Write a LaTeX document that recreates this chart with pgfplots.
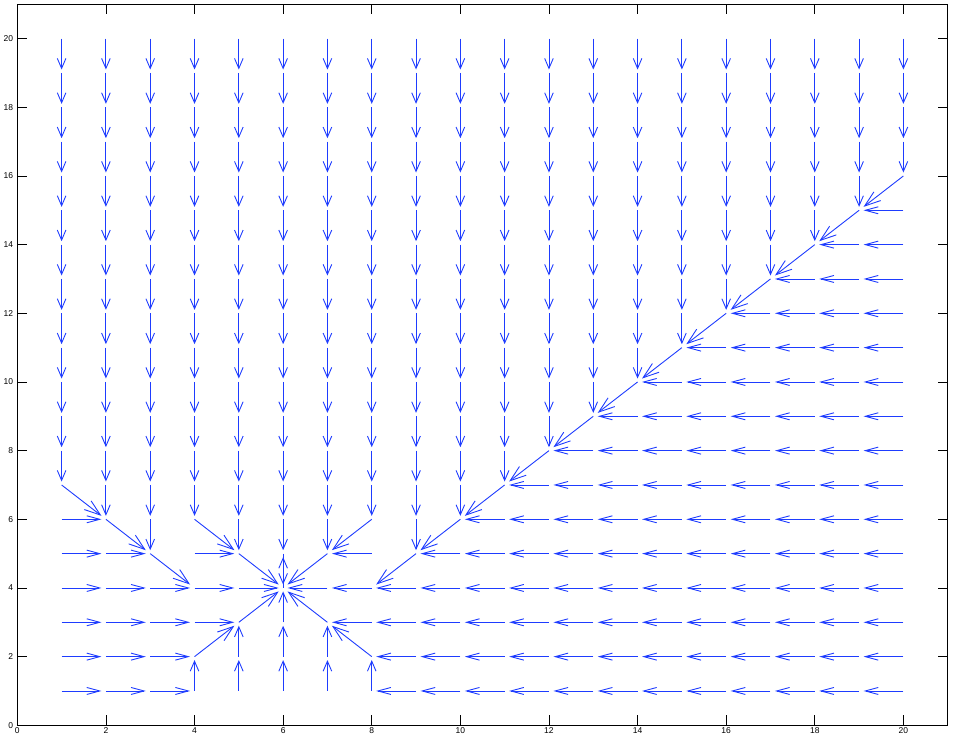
\documentclass[border=0pt]{standalone}
\usepackage{fontspec}
\setmainfont{Liberation Sans}
\usepackage{pgfplots}
\usepackage{pgfplotstable}
\pgfplotsset{compat=1.18}
\usetikzlibrary{arrows.meta}
\definecolor{qblue}{RGB}{30,60,255}

% horizontal arrows
\pgfplotstableread[row sep=\\]{
x y u v\\
20 15 -1 0\\
19 14 -1 0\\ 20 14 -1 0\\
18 13 -1 0\\ 19 13 -1 0\\ 20 13 -1 0\\
17 12 -1 0\\ 18 12 -1 0\\ 19 12 -1 0\\ 20 12 -1 0\\
16 11 -1 0\\ 17 11 -1 0\\ 18 11 -1 0\\ 19 11 -1 0\\ 20 11 -1 0\\
15 10 -1 0\\ 16 10 -1 0\\ 17 10 -1 0\\ 18 10 -1 0\\ 19 10 -1 0\\ 20 10 -1 0\\
14 9 -1 0\\ 15 9 -1 0\\ 16 9 -1 0\\ 17 9 -1 0\\ 18 9 -1 0\\ 19 9 -1 0\\ 20 9 -1 0\\
13 8 -1 0\\ 14 8 -1 0\\ 15 8 -1 0\\ 16 8 -1 0\\ 17 8 -1 0\\ 18 8 -1 0\\ 19 8 -1 0\\ 20 8 -1 0\\
12 7 -1 0\\ 13 7 -1 0\\ 14 7 -1 0\\ 15 7 -1 0\\ 16 7 -1 0\\ 17 7 -1 0\\ 18 7 -1 0\\ 19 7 -1 0\\ 20 7 -1 0\\
1 6 1 0\\ 11 6 -1 0\\ 12 6 -1 0\\ 13 6 -1 0\\ 14 6 -1 0\\ 15 6 -1 0\\ 16 6 -1 0\\ 17 6 -1 0\\ 18 6 -1 0\\ 19 6 -1 0\\ 20 6 -1 0\\
1 5 1 0\\ 2 5 1 0\\ 4 5 1 0\\ 8 5 -1 0\\ 10 5 -1 0\\ 11 5 -1 0\\ 12 5 -1 0\\ 13 5 -1 0\\ 14 5 -1 0\\ 15 5 -1 0\\ 16 5 -1 0\\ 17 5 -1 0\\ 18 5 -1 0\\ 19 5 -1 0\\ 20 5 -1 0\\
1 4 1 0\\ 2 4 1 0\\ 3 4 1 0\\ 4 4 1 0\\ 5 4 1 0\\ 7 4 -1 0\\ 8 4 -1 0\\ 9 4 -1 0\\ 10 4 -1 0\\ 11 4 -1 0\\ 12 4 -1 0\\ 13 4 -1 0\\ 14 4 -1 0\\ 15 4 -1 0\\ 16 4 -1 0\\ 17 4 -1 0\\ 18 4 -1 0\\ 19 4 -1 0\\ 20 4 -1 0\\
1 3 1 0\\ 2 3 1 0\\ 3 3 1 0\\ 4 3 1 0\\ 8 3 -1 0\\ 9 3 -1 0\\ 10 3 -1 0\\ 11 3 -1 0\\ 12 3 -1 0\\ 13 3 -1 0\\ 14 3 -1 0\\ 15 3 -1 0\\ 16 3 -1 0\\ 17 3 -1 0\\ 18 3 -1 0\\ 19 3 -1 0\\ 20 3 -1 0\\
1 2 1 0\\ 2 2 1 0\\ 3 2 1 0\\ 9 2 -1 0\\ 10 2 -1 0\\ 11 2 -1 0\\ 12 2 -1 0\\ 13 2 -1 0\\ 14 2 -1 0\\ 15 2 -1 0\\ 16 2 -1 0\\ 17 2 -1 0\\ 18 2 -1 0\\ 19 2 -1 0\\ 20 2 -1 0\\
1 1 1 0\\ 2 1 1 0\\ 3 1 1 0\\ 9 1 -1 0\\ 10 1 -1 0\\ 11 1 -1 0\\ 12 1 -1 0\\ 13 1 -1 0\\ 14 1 -1 0\\ 15 1 -1 0\\ 16 1 -1 0\\ 17 1 -1 0\\ 18 1 -1 0\\ 19 1 -1 0\\ 20 1 -1 0\\
}\harr

% vertical arrows
\pgfplotstableread[row sep=\\]{
x y u v\\
1 20 0 -1\\ 2 20 0 -1\\ 3 20 0 -1\\ 4 20 0 -1\\ 5 20 0 -1\\ 6 20 0 -1\\ 7 20 0 -1\\ 8 20 0 -1\\ 9 20 0 -1\\ 10 20 0 -1\\ 11 20 0 -1\\ 12 20 0 -1\\ 13 20 0 -1\\ 14 20 0 -1\\ 15 20 0 -1\\ 16 20 0 -1\\ 17 20 0 -1\\ 18 20 0 -1\\ 19 20 0 -1\\ 20 20 0 -1\\
1 19 0 -1\\ 2 19 0 -1\\ 3 19 0 -1\\ 4 19 0 -1\\ 5 19 0 -1\\ 6 19 0 -1\\ 7 19 0 -1\\ 8 19 0 -1\\ 9 19 0 -1\\ 10 19 0 -1\\ 11 19 0 -1\\ 12 19 0 -1\\ 13 19 0 -1\\ 14 19 0 -1\\ 15 19 0 -1\\ 16 19 0 -1\\ 17 19 0 -1\\ 18 19 0 -1\\ 19 19 0 -1\\ 20 19 0 -1\\
1 18 0 -1\\ 2 18 0 -1\\ 3 18 0 -1\\ 4 18 0 -1\\ 5 18 0 -1\\ 6 18 0 -1\\ 7 18 0 -1\\ 8 18 0 -1\\ 9 18 0 -1\\ 10 18 0 -1\\ 11 18 0 -1\\ 12 18 0 -1\\ 13 18 0 -1\\ 14 18 0 -1\\ 15 18 0 -1\\ 16 18 0 -1\\ 17 18 0 -1\\ 18 18 0 -1\\ 19 18 0 -1\\ 20 18 0 -1\\
1 17 0 -1\\ 2 17 0 -1\\ 3 17 0 -1\\ 4 17 0 -1\\ 5 17 0 -1\\ 6 17 0 -1\\ 7 17 0 -1\\ 8 17 0 -1\\ 9 17 0 -1\\ 10 17 0 -1\\ 11 17 0 -1\\ 12 17 0 -1\\ 13 17 0 -1\\ 14 17 0 -1\\ 15 17 0 -1\\ 16 17 0 -1\\ 17 17 0 -1\\ 18 17 0 -1\\ 19 17 0 -1\\ 20 17 0 -1\\
1 16 0 -1\\ 2 16 0 -1\\ 3 16 0 -1\\ 4 16 0 -1\\ 5 16 0 -1\\ 6 16 0 -1\\ 7 16 0 -1\\ 8 16 0 -1\\ 9 16 0 -1\\ 10 16 0 -1\\ 11 16 0 -1\\ 12 16 0 -1\\ 13 16 0 -1\\ 14 16 0 -1\\ 15 16 0 -1\\ 16 16 0 -1\\ 17 16 0 -1\\ 18 16 0 -1\\ 19 16 0 -1\\
1 15 0 -1\\ 2 15 0 -1\\ 3 15 0 -1\\ 4 15 0 -1\\ 5 15 0 -1\\ 6 15 0 -1\\ 7 15 0 -1\\ 8 15 0 -1\\ 9 15 0 -1\\ 10 15 0 -1\\ 11 15 0 -1\\ 12 15 0 -1\\ 13 15 0 -1\\ 14 15 0 -1\\ 15 15 0 -1\\ 16 15 0 -1\\ 17 15 0 -1\\ 18 15 0 -1\\
1 14 0 -1\\ 2 14 0 -1\\ 3 14 0 -1\\ 4 14 0 -1\\ 5 14 0 -1\\ 6 14 0 -1\\ 7 14 0 -1\\ 8 14 0 -1\\ 9 14 0 -1\\ 10 14 0 -1\\ 11 14 0 -1\\ 12 14 0 -1\\ 13 14 0 -1\\ 14 14 0 -1\\ 15 14 0 -1\\ 16 14 0 -1\\ 17 14 0 -1\\
1 13 0 -1\\ 2 13 0 -1\\ 3 13 0 -1\\ 4 13 0 -1\\ 5 13 0 -1\\ 6 13 0 -1\\ 7 13 0 -1\\ 8 13 0 -1\\ 9 13 0 -1\\ 10 13 0 -1\\ 11 13 0 -1\\ 12 13 0 -1\\ 13 13 0 -1\\ 14 13 0 -1\\ 15 13 0 -1\\ 16 13 0 -1\\
1 12 0 -1\\ 2 12 0 -1\\ 3 12 0 -1\\ 4 12 0 -1\\ 5 12 0 -1\\ 6 12 0 -1\\ 7 12 0 -1\\ 8 12 0 -1\\ 9 12 0 -1\\ 10 12 0 -1\\ 11 12 0 -1\\ 12 12 0 -1\\ 13 12 0 -1\\ 14 12 0 -1\\ 15 12 0 -1\\
1 11 0 -1\\ 2 11 0 -1\\ 3 11 0 -1\\ 4 11 0 -1\\ 5 11 0 -1\\ 6 11 0 -1\\ 7 11 0 -1\\ 8 11 0 -1\\ 9 11 0 -1\\ 10 11 0 -1\\ 11 11 0 -1\\ 12 11 0 -1\\ 13 11 0 -1\\ 14 11 0 -1\\
1 10 0 -1\\ 2 10 0 -1\\ 3 10 0 -1\\ 4 10 0 -1\\ 5 10 0 -1\\ 6 10 0 -1\\ 7 10 0 -1\\ 8 10 0 -1\\ 9 10 0 -1\\ 10 10 0 -1\\ 11 10 0 -1\\ 12 10 0 -1\\ 13 10 0 -1\\
1 9 0 -1\\ 2 9 0 -1\\ 3 9 0 -1\\ 4 9 0 -1\\ 5 9 0 -1\\ 6 9 0 -1\\ 7 9 0 -1\\ 8 9 0 -1\\ 9 9 0 -1\\ 10 9 0 -1\\ 11 9 0 -1\\ 12 9 0 -1\\
1 8 0 -1\\ 2 8 0 -1\\ 3 8 0 -1\\ 4 8 0 -1\\ 5 8 0 -1\\ 6 8 0 -1\\ 7 8 0 -1\\ 8 8 0 -1\\ 9 8 0 -1\\ 10 8 0 -1\\ 11 8 0 -1\\
2 7 0 -1\\ 3 7 0 -1\\ 4 7 0 -1\\ 5 7 0 -1\\ 6 7 0 -1\\ 7 7 0 -1\\ 8 7 0 -1\\ 9 7 0 -1\\ 10 7 0 -1\\
3 6 0 -1\\ 5 6 0 -1\\ 6 6 0 -1\\ 7 6 0 -1\\ 9 6 0 -1\\
6 5 0 -1\\
6 4 0 1\\
6 3 0 1\\
5 2 0 1\\ 6 2 0 1\\ 7 2 0 1\\
4 1 0 1\\ 5 1 0 1\\ 6 1 0 1\\ 7 1 0 1\\ 8 1 0 1\\
}\varr

% diagonal arrows
\pgfplotstableread[row sep=\\]{
x y u v\\
20 16 -1 -1\\ 19 15 -1 -1\\ 18 14 -1 -1\\ 17 13 -1 -1\\ 16 12 -1 -1\\
15 11 -1 -1\\ 14 10 -1 -1\\ 13 9 -1 -1\\ 12 8 -1 -1\\ 11 7 -1 -1\\
1 7 1 -1\\
2 6 1 -1\\ 4 6 1 -1\\ 8 6 -1 -1\\ 10 6 -1 -1\\
3 5 1 -1\\ 5 5 1 -1\\ 7 5 -1 -1\\ 9 5 -1 -1\\
5 3 1 1\\ 7 3 -1 1\\
4 2 1 1\\ 8 2 -1 1\\
}\darr

\begin{document}
\begin{tikzpicture}
\begin{axis}[
  scale only axis,
  width=930.4pt, height=721pt,
  xmin=0, xmax=21, ymin=0, ymax=21,
  xtick={0,2,...,20}, ytick={0,2,...,20},
  tick align=inside, xtick pos=both, ytick pos=both,
  major tick length=10pt,
  axis line style={line width=0.8pt, black},
  every tick/.style={black, line width=0.8pt},
  /pgf/number format/assume math mode=true,
  tick label style={font=\fontsize{8.5}{9}\selectfont, inner sep=0pt},
  x tick label style={yshift=-2.5pt},
  y tick label style={xshift=-4pt},
]
\coordinate (SW) at (rel axis cs:0,0);
\coordinate (NE) at (rel axis cs:1,1);
\addplot[qblue, line width=0.9pt, mark=none,
  quiver={u=\thisrow{u}, v=\thisrow{v}, scale arrows=0.9},
  -{Straight Barb[length=13pt,width=7pt]}] table[x=x,y=y] {\harr};
\addplot[qblue, line width=0.9pt, mark=none,
  quiver={u=\thisrow{u}, v=\thisrow{v}, scale arrows=0.9},
  -{Straight Barb[length=10pt,width=8.6pt]}] table[x=x,y=y] {\varr};
\addplot[qblue, line width=0.9pt, mark=none,
  quiver={u=\thisrow{u}, v=\thisrow{v}, scale arrows=0.9},
  -{Straight Barb[length=16pt,width=11pt]}] table[x=x,y=y] {\darr};
\end{axis}
\pgfresetboundingbox
\path (SW) ++(-17.3pt,-15.7pt) rectangle ([shift={(14.3pt,4.3pt)}]NE);
\end{tikzpicture}
\end{document}
